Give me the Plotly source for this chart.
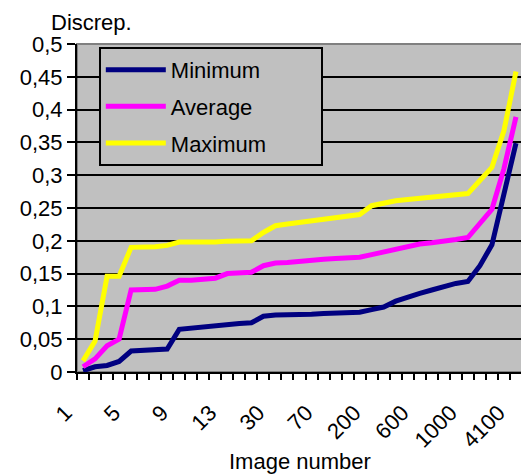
import plotly.graph_objects as go

categories = ["1", "2", "3", "4", "5", "6", "7", "8", "9", "10", "11", "12", "13",
              "15", "20", "25", "30", "40", "50", "60", "70", "80", "100", "150",
              "200", "300", "400", "500", "600", "700", "800", "900", "1000",
              "2000", "3000", "4000", "4100"]
labelled = ["1", "5", "9", "13", "30", "70", "200", "600", "1000", "4100"]

minimum = [0.002, 0.008, 0.010, 0.016, 0.032, 0.033, 0.034, 0.035, 0.065, 0.067,
           0.068, 0.070, 0.073, 0.074, 0.075, 0.085, 0.087, 0.087, 0.088, 0.088,
           0.089, 0.0895, 0.090, 0.091, 0.095, 0.099, 0.108, 0.115, 0.120, 0.125,
           0.130, 0.135, 0.138, 0.162, 0.194, 0.275, 0.349]
average = [0.008, 0.020, 0.040, 0.050, 0.125, 0.126, 0.126, 0.131, 0.140, 0.140,
           0.142, 0.143, 0.150, 0.151, 0.152, 0.162, 0.166, 0.167, 0.169, 0.170,
           0.172, 0.173, 0.174, 0.175, 0.179, 0.183, 0.187, 0.191, 0.195, 0.197,
           0.199, 0.202, 0.205, 0.226, 0.248, 0.310, 0.389]
maximum = [0.017, 0.047, 0.146, 0.146, 0.190, 0.190, 0.191, 0.193, 0.198, 0.198,
           0.1975, 0.198, 0.1995, 0.200, 0.200, 0.2127, 0.223, 0.2255, 0.228, 0.2305,
           0.233, 0.2355, 0.238, 0.240, 0.2535, 0.2575, 0.261, 0.263, 0.265, 0.267,
           0.268, 0.270, 0.272, 0.292, 0.312, 0.368, 0.458]

series = [("Minimum", minimum, "#000080"),
          ("Average", average, "#FF00FF"),
          ("Maximum", maximum, "#FFFF00")]

FONT = "Liberation Sans, Arial, sans-serif"
FS = 22
PAD = "\u00a0" * 8   # widen the legend box like the original
TPAD = "\u00a0" * 4  # nudge rotated tick labels down-left like the original

fig = go.Figure()
for i, (name, vals, col) in enumerate(series):
    fig.add_trace(go.Scatter(x=categories, y=vals, mode="lines", name=name + PAD,
                             legendgroup=f"g{i}",
                             line=dict(color=col, width=5)))

fig.update_layout(
    width=521, height=466,
    margin=dict(l=69, r=2, t=36, b=102, pad=0),
    paper_bgcolor="white", plot_bgcolor="#C0C0C0",
    separators=", ",
    font=dict(family=FONT, size=FS, color="black"),
    showlegend=True,
    legend=dict(x=0.049, y=0.991, xanchor="left", yanchor="top",
                bgcolor="#C0C0C0", bordercolor="black", borderwidth=2,
                font=dict(family=FONT, size=FS, color="black"),
                traceorder="grouped", tracegroupgap=5, itemwidth=60),
    xaxis=dict(type="category", tickmode="array", tickvals=categories,
               ticktext=[(c + TPAD) if c in labelled else "" for c in categories],
               tickson="boundaries", ticks="outside", ticklen=6, tickwidth=2,
               tickcolor="black", tickangle=-45, showgrid=False,
               showline=True, linecolor="black", linewidth=2,
               range=[-0.5, len(categories) - 0.5], zeroline=False,
               tickfont=dict(family=FONT, size=FS)),
    yaxis=dict(range=[0, 0.5], dtick=0.05, tick0=0, ticks="outside", ticklen=8,
               tickwidth=2, tickcolor="black", showgrid=True, gridcolor="black",
               gridwidth=2, showline=True, linecolor="black", linewidth=2,
               zeroline=False, tickfont=dict(family=FONT, size=FS)),
    shapes=[dict(type="rect", xref="paper", yref="paper", x0=0, x1=1, y0=0, y1=1,
                 line=dict(color="#808080", width=2), layer="below")],
    annotations=[
        dict(text="Discrep.", xref="paper", yref="paper", x=-0.062, y=1.067,
             xanchor="left", yanchor="middle", showarrow=False,
             font=dict(family=FONT, size=FS)),
        dict(text="Image number", xref="paper", yref="paper", x=0.5, y=-0.272,
             xanchor="center", yanchor="middle", showarrow=False,
             font=dict(family=FONT, size=FS)),
    ],
)

fig.write_html("out.html")
